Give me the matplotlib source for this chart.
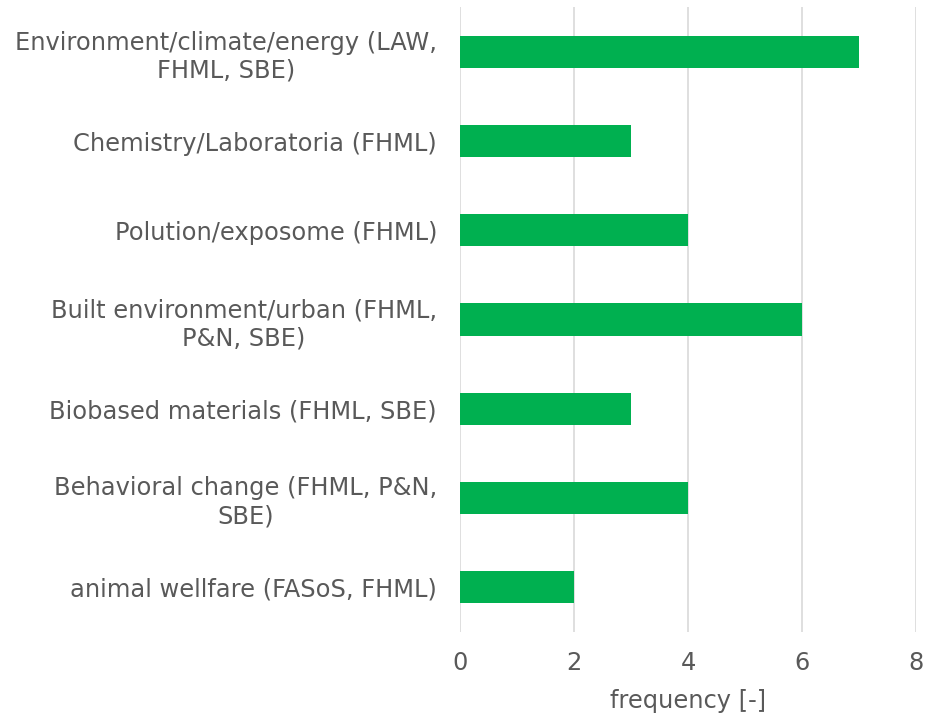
import matplotlib
matplotlib.use("Agg")
import matplotlib.pyplot as plt

categories = [
    "Environment/climate/energy (LAW,\nFHML, SBE)",
    "Chemistry/Laboratoria (FHML)",
    "Polution/exposome (FHML)",
    "Built environment/urban (FHML,\nP&N, SBE)",
    "Biobased materials (FHML, SBE)",
    "Behavioral change (FHML, P&N,\nSBE)",
    "animal wellfare (FASoS, FHML)",
]
values = [7, 3, 4, 6, 3, 4, 2]
xticks = [0, 2, 4, 6, 8]

txt = "#595959"
fs = 17.4
fig = plt.figure(figsize=(9.26, 7.21), dpi=100)
ax = fig.add_axes([0.4968, 0.124, 0.4924, 0.8656])
y = list(range(len(categories)))
ax.barh(y, values, height=0.36, color="#00B050", zorder=3)
ax.set_ylim(len(categories) - 0.5, -0.5)
ax.set_xlim(0, 8)
ax.set_xticks(xticks)
ax.set_xticklabels([str(t) for t in xticks], fontsize=fs, color=txt)
ax.set_yticks(y)
ax.set_yticklabels(categories, fontsize=fs, color=txt, linespacing=1.22,
                   multialignment="center")
ax.tick_params(axis="both", length=0)
ax.tick_params(axis="x", pad=14)
ax.tick_params(axis="y", pad=16.5)
ax.grid(axis="x", color="#D9D9D9", linewidth=1.2, zorder=0)
for s in ax.spines.values():
    s.set_visible(False)
ax.set_xlabel("frequency [-]", fontsize=fs, color=txt, labelpad=10)
fig.savefig("out.png", dpi=100)
